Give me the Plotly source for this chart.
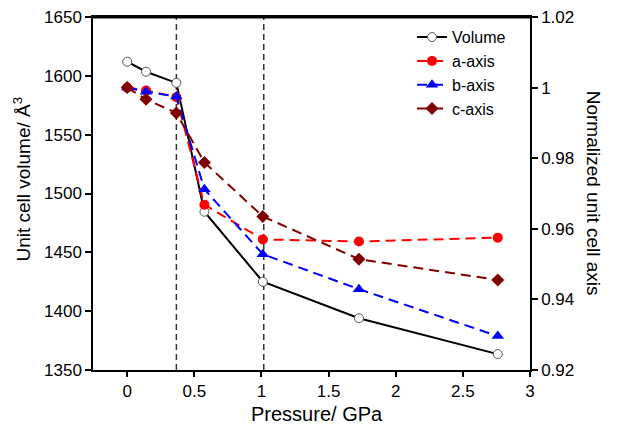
import plotly.graph_objects as go

# ---- data ----
pressure = [0, 0.14, 0.366, 0.575, 1.01, 1.726, 2.76]
volume = [1612, 1603.5, 1594, 1484.5, 1425, 1394, 1363.5]
a_axis = [1.0, 0.9992, 0.9973, 0.9668, 0.9570, 0.9564, 0.9575]
b_axis = [1.0, 0.9988, 0.9975, 0.9712, 0.9528, 0.9429, 0.9296]
c_axis = [1.0, 0.9967, 0.9928, 0.9788, 0.9635, 0.9514, 0.9455]
transition_lines = [0.366, 1.017]

x_ticks = [0, 0.5, 1, 1.5, 2, 2.5, 3]
x_ticktext = ["0", "0.5", "1", "1.5", "2", "2.5", "3"]
y1_ticks = [1350, 1400, 1450, 1500, 1550, 1600, 1650]
y2_ticks = [0.92, 0.94, 0.96, 0.98, 1.0, 1.02]
y2_ticktext = ["0.92", "0.94", "0.96", "0.98", "1", "1.02"]

FONT = "Liberation Sans, Arial, sans-serif"
DASH = "10px,6px"

fig = go.Figure()

fig.add_trace(go.Scatter(
    x=pressure, y=a_axis, name="a-axis", yaxis="y2", mode="lines+markers",
    line=dict(color="#ff0000", width=2, dash=DASH),
    marker=dict(symbol="circle", size=10, color="#ff0000"), legendrank=2))
fig.add_trace(go.Scatter(
    x=pressure, y=b_axis, name="b-axis", yaxis="y2", mode="lines+markers",
    line=dict(color="#0000ff", width=2, dash=DASH),
    marker=dict(symbol="triangle-up", size=11, color="#0000ff"), legendrank=3))
fig.add_trace(go.Scatter(
    x=pressure, y=c_axis, name="c-axis", yaxis="y2", mode="lines+markers",
    line=dict(color="#800000", width=2, dash=DASH),
    marker=dict(symbol="diamond", size=10, color="#800000"), legendrank=4))
fig.add_trace(go.Scatter(
    x=pressure, y=volume, name="Volume", mode="lines+markers",
    line=dict(color="#000000", width=2),
    marker=dict(symbol="circle", size=9, color="#ffffff",
                line=dict(color="#555555", width=1)), legendrank=1))

shapes = []
for xv in transition_lines:
    shapes.append(dict(type="line", xref="x", yref="paper", x0=xv, x1=xv, y0=0, y1=1,
                       line=dict(color="#333333", width=1.5, dash="6px,4px"), layer="below"))
# top frame line (drawn as a thin filled rectangle hugging the plot top)
shapes.append(dict(type="rect", xref="paper", yref="paper", x0=0, x1=1, y0=0.996, y1=1.0,
                   line=dict(width=0), fillcolor="#000000", layer="above"))

axis_common = dict(showline=True, linecolor="#000000", linewidth=1.5, ticks="outside",
                   tickcolor="#000000", tickwidth=1.5, ticklen=6, showgrid=False,
                   zeroline=False, automargin=False, ticklabeloverflow="allow",
                   tickfont=dict(family=FONT, size=17, color="#000000"))

fig.update_layout(
    width=617, height=428,
    margin=dict(l=85, r=95, t=9, b=66, autoexpand=False),
    paper_bgcolor="white", plot_bgcolor="white",
    font=dict(family=FONT, size=17, color="#000000"),
    showlegend=True,
    legend=dict(x=0.73, y=0.991, xanchor="left", yanchor="top", bgcolor="rgba(0,0,0,0)",
                font=dict(family=FONT, size=16, color="#000000"), tracegroupgap=0),
    xaxis=dict(range=[-0.255, 3], tickvals=x_ticks, ticktext=x_ticktext, mirror=True,
               **{**axis_common, "ticklen": 5}),
    yaxis=dict(range=[1350, 1650], tickvals=y1_ticks, **axis_common),
    yaxis2=dict(range=[0.92, 1.02], tickvals=y2_ticks, ticktext=y2_ticktext,
                overlaying="y", side="right", **axis_common),
    shapes=shapes,
    annotations=[
        dict(text="Pressure/ GPa", xref="paper", yref="paper",
             x=0.513, y=-0.124, xanchor="center", yanchor="middle",
             showarrow=False, font=dict(family=FONT, size=20, color="#000000")),
        dict(text="Unit cell volume/ Å<sup>3</sup>", xref="paper", yref="paper",
             x=-0.162, y=0.54, xanchor="center", yanchor="middle", textangle=-90,
             showarrow=False, font=dict(family=FONT, size=19, color="#000000")),
        dict(text="Normalized unit cell axis", xref="paper", yref="paper",
             x=1.146, y=0.5, xanchor="center", yanchor="middle", textangle=90,
             showarrow=False, font=dict(family=FONT, size=19, color="#000000")),
    ],
)

fig.write_html("out.html")
